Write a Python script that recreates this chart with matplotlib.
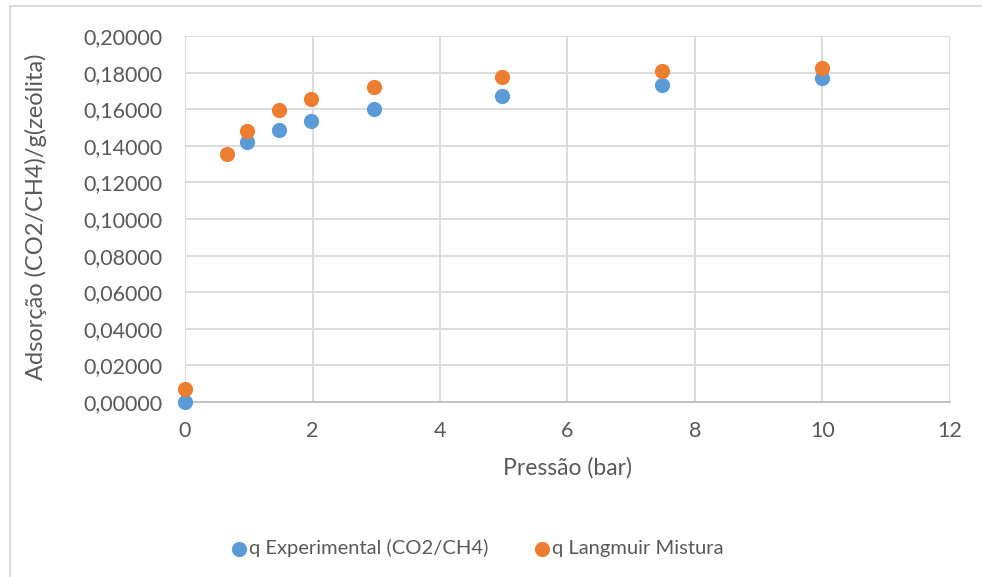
import matplotlib
matplotlib.use('Agg')
import matplotlib.pyplot as plt
from matplotlib.lines import Line2D
from matplotlib.ticker import FuncFormatter

pressure = [0, 0.66, 0.97, 1.47, 1.97, 2.97, 4.98, 7.49, 10.0]
q_exp = [0.0, None, 0.1419, 0.1489, 0.1535, 0.1600, 0.1674, 0.1731, 0.1769]
q_langmuir = [0.0071, 0.1356, 0.1482, 0.1595, 0.1655, 0.1720, 0.1777, 0.1809, 0.1825]

blue = '#5B9BD5'
orange = '#ED7D31'
text_color = '#595959'
grid_color = '#D9D9D9'

plt.rcParams['font.family'] = ['Lato', 'DejaVu Sans']

fig = plt.figure(figsize=(9.82, 5.77), dpi=100)
ax = fig.add_axes([185 / 982, 1 - 402 / 577, 765 / 982, 366 / 577])

exp_x = [p for p, q in zip(pressure, q_exp) if q is not None]
exp_y = [q for q in q_exp if q is not None]
ax.scatter(exp_x, exp_y, s=120, color=blue, label='q Experimental (CO2/CH4)',
           zorder=3, linewidths=0, clip_on=False)
ax.scatter(pressure, q_langmuir, s=120, color=orange, label='q Langmuir Mistura',
           zorder=3, linewidths=0, clip_on=False)

ax.set_xlim(0, 12)
ax.set_ylim(0, 0.2)
ax.set_xticks(range(0, 13, 2))
ax.set_yticks([i * 0.02 for i in range(11)])
ax.yaxis.set_major_formatter(FuncFormatter(lambda v, p: f'{v:.5f}'.replace('.', ',')))
ax.grid(True, color=grid_color, linewidth=1.3)
ax.set_axisbelow(True)
for side in ['top', 'right', 'left']:
    ax.spines[side].set_visible(False)
ax.spines['bottom'].set_color('#BFBFBF')
ax.spines['bottom'].set_linewidth(1.3)
ax.tick_params(length=0, labelsize=15.5, labelcolor=text_color)
ax.tick_params(axis='y', pad=16)
ax.tick_params(axis='x', pad=14)
ax.set_xlabel('Pressão (bar)', fontsize=16.5, color=text_color, labelpad=11)
ax.set_ylabel('Adsorção (CO2/CH4)/g(zeólita)', fontsize=17, color=text_color)
ax.yaxis.set_label_coords(47 / 982, 1 - 217 / 577, transform=fig.transFigure)

leg = fig.legend(loc='center', bbox_to_anchor=(477 / 982, 1 - 548 / 577), ncol=2,
                 frameon=False, fontsize=14.5, handletextpad=0.05, columnspacing=2.2,
                 handlelength=0.9, markerscale=1.0)
for t in leg.get_texts():
    t.set_color(text_color)

fig.add_artist(Line2D([10 / 982, 1], [1 - 5.7 / 577] * 2, transform=fig.transFigure,
                      color=grid_color, linewidth=1.3))
fig.add_artist(Line2D([10 / 982] * 2, [0, 1 - 5.7 / 577], transform=fig.transFigure,
                      color=grid_color, linewidth=1.3))

fig.savefig('out.png', dpi=100)
